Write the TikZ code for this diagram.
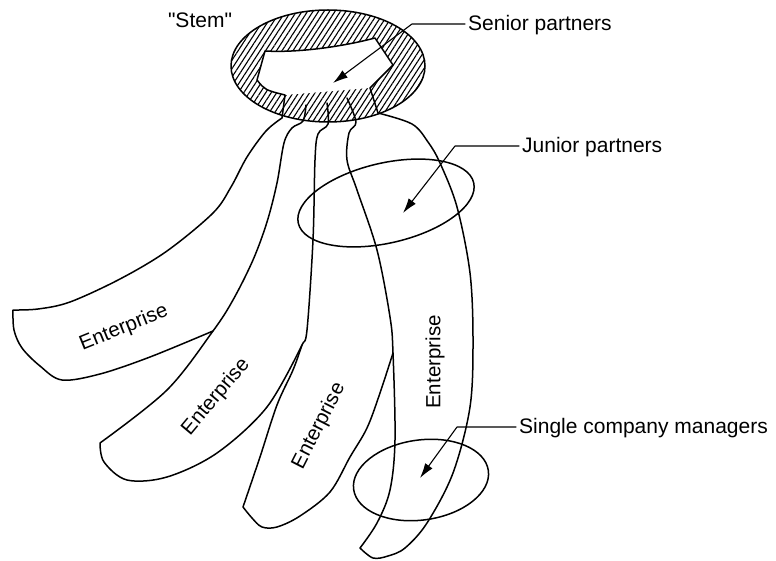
\documentclass[tikz,border=0pt]{standalone}
\usepackage{fontspec}
\setmainfont{Liberation Sans}
\newfontfamily\rawsans{Liberation Sans}
\usetikzlibrary{patterns.meta,arrows.meta}
\begin{document}
\begin{tikzpicture}[x=1pt,y=-1pt,line join=round,line cap=round,
  edge/.style={line width=1.5pt},
  lbl/.style={font=\fontsize{21}{25}\selectfont,inner sep=0pt},
  ent/.style={font=\fontsize{20.5}{24}\selectfont,inner sep=0pt},
  ptr/.style={line width=1.1pt,-{Latex[length=15pt,width=9pt]}}]
\useasboundingbox (0,0) rectangle (776,561);
% stem
\coordinate (sc) at (328,66);
\fill[pattern={Lines[angle=57,distance=4.6pt,line width=1.1pt]}] (sc) ellipse [x radius=97, y radius=56];
\fill[white] (285,95) .. controls (265,90) .. (257,80) -- (265,51) .. controls (300,53) and (345,46) .. (375,38) -- (393,65) -- (370,88) -- cycle;
\draw[edge] (sc) ellipse [x radius=97, y radius=56];
\draw[edge] (282,118) -- (285,95) .. controls (265,90) .. (257,80) -- (265,51) .. controls (300,53) and (345,46) .. (375,38) -- (393,65) -- (370,88) -- (378,113);
% enterprise 1
\draw[edge] plot[smooth,tension=0.55] coordinates {(282,118) (266,131) (247,157) (231,187) (213,213) (167,251) (120,279) (70,302) (38,309) (13,310)}
  -- plot[smooth,tension=0.55] coordinates {(13,310) (14,330) (22,348) (40,366) (62,380) (100,374) (150,357) (213,331)};
% line 1
\draw[edge] plot[smooth,tension=0.55] coordinates {(306,105) (303,121) (292,128) (284,143) (277,183) (267,222) (253,260) (233,300) (213,331) (167,390) (100,443)}
  -- plot[smooth,tension=0.55] coordinates {(100,443) (104,462) (127,480) (167,477) (217,453) (267,407) (302,345)};
% line 2
\draw[edge] plot[smooth,tension=0.55] coordinates {(327,103) (328,124) (318,134) (315,160) (313,240) (307,330) (302,345) (293,370) (277,405) (260,457) (243,507)}
  -- plot[smooth,tension=0.55] coordinates {(243,507) (252,518) (262,527) (277,527) (300,516) (330,492) (350,457) (367,428) (380,393) (393,353)};
% line 3 + enterprise 4
\draw[edge] plot[smooth,tension=0.55] coordinates {(347,98) (356,122) (349,133) (347,160) (357,190) (377,250) (390,317) (393,353) (395,440) (390,490) (377,523) (360,548)}
  -- plot[smooth,tension=0.55] coordinates {(360,548) (373,558) (388,556) (405,548) (427,523) (453,473) (470,407) (473,340) (470,273) (457,207) (440,163) (428,142) (412,124) (378,113)};
% group ellipses
\draw[edge,rotate around={13:(386,203)}] (386,203) ellipse [x radius=90, y radius=40];
\draw[edge,rotate around={8:(421,480)}] (421,480) ellipse [x radius=68, y radius=40];
% enterprise labels
\node[ent,rotate=22] (e1) at (124,328) {Enterprise};
\node[ent,rotate=50] (e2) at (216,397) {Enterprise};
\node[ent,rotate=63] (e3) at (319,426) {Enterprise};
\node[ent,rotate=90] (e4) at (435,362) {Enterprise};
% labels and pointers
\node[lbl,anchor=base] (stem) at (200,28) {\rawsans"Stem"};
\node[lbl,anchor=base west] (sen) at (468,31) {Senior partners};
\node[lbl,anchor=base west] (jun) at (522,153) {Junior partners};
\node[lbl,anchor=base west] (sgl) at (519,433) {Single company managers};
\coordinate (senTip) at (333,83);
\coordinate (junTip) at (403,213);
\coordinate (sglTip) at (420,478);
\draw[ptr] ([xshift=-3pt,yshift=7pt]sen.base west) -- ++(-53,0) -- (senTip);
\draw[ptr] ([xshift=-3pt,yshift=7pt]jun.base west) -- ++(-64,0) -- (junTip);
\draw[ptr] ([xshift=-3pt,yshift=6pt]sgl.base west) -- ++(-59,0) -- (sglTip);
\end{tikzpicture}
\end{document}
